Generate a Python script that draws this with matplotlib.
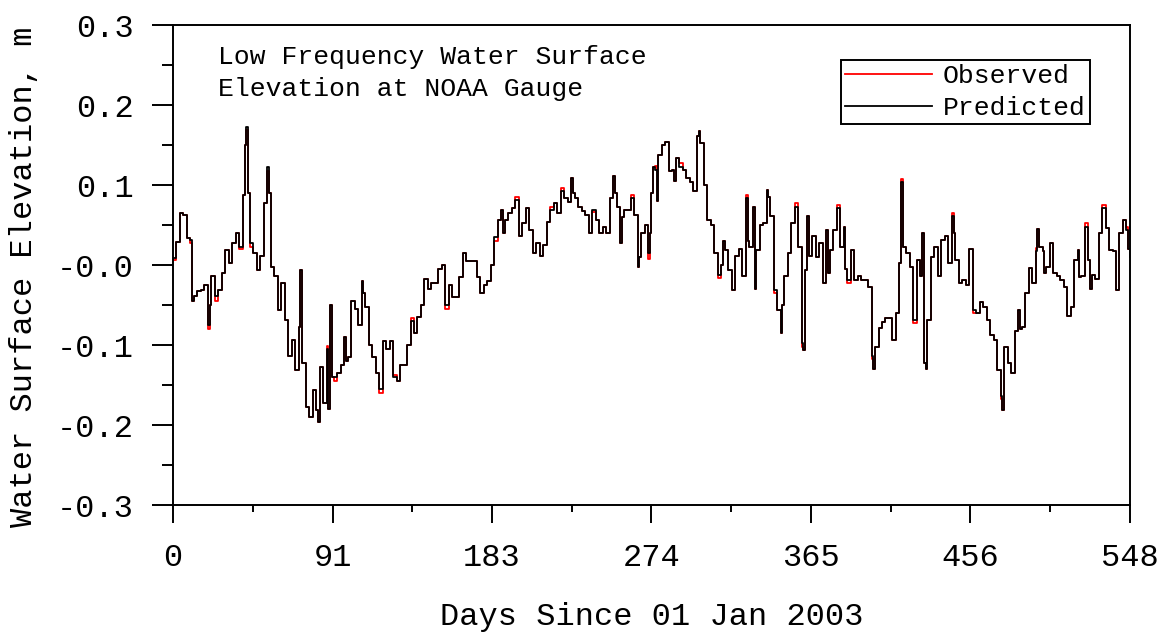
import matplotlib
matplotlib.use('Agg')
import matplotlib.pyplot as plt
import numpy as np

# Low-pass filtered water level at the NOAA gauge, metres
days = [0, 2, 4, 6, 8, 10, 11, 12, 14, 16, 18, 20, 21, 22, 24, 26, 28, 30, 32, 34,
        36, 38, 40, 41, 42, 43, 44, 46, 48, 50, 52, 54, 55, 56, 58, 60, 62, 64, 66, 68,
        70, 72, 73, 74, 76, 78, 80, 82, 83, 84, 86, 88, 89, 90, 91, 92, 94, 96, 98, 99,
        100, 102, 104, 106, 108, 109, 110, 112, 114, 116, 118, 120, 122, 124, 126, 128, 130, 132, 134, 136,
        138, 140, 142, 144, 146, 148, 150, 152, 154, 156, 158, 160, 162, 164, 166, 168, 170, 172, 174, 176,
        178, 180, 182, 184, 186, 188, 189, 190, 192, 194, 196, 198, 200, 202, 204, 206, 208, 210, 212, 214,
        216, 218, 220, 222, 224, 226, 228, 229, 230, 232, 234, 236, 238, 240, 242, 244, 246, 248, 250, 252,
        253, 254, 256, 257, 258, 260, 262, 264, 266, 267, 268, 270, 272, 273, 274, 275, 276, 277, 278, 280,
        282, 284, 286, 287, 288, 290, 292, 294, 296, 298, 300, 301, 302, 304, 306, 308, 310, 312, 314, 315,
        316, 318, 320, 322, 324, 326, 328, 329, 330, 332, 333, 334, 336, 338, 340, 341, 342, 344, 346, 348,
        349, 350, 352, 354, 356, 358, 360, 361, 362, 363, 364, 366, 368, 370, 372, 374, 375, 376, 378, 380,
        382, 384, 385, 386, 388, 390, 392, 394, 396, 398, 400, 401, 402, 404, 406, 408, 410, 412, 414, 416,
        417, 418, 420, 422, 424, 426, 428, 429, 430, 431, 432, 434, 436, 438, 440, 442, 444, 446, 447, 448,
        450, 452, 454, 456, 458, 460, 462, 464, 466, 468, 470, 472, 474, 475, 476, 478, 480, 482, 484, 485,
        486, 488, 490, 492, 494, 495, 496, 498, 499, 500, 502, 504, 506, 508, 510, 512, 514, 516, 518, 519,
        520, 522, 524, 525, 526, 528, 530, 532, 534, 536, 538, 540, 542, 544, 546, 547, 548]

predicted = [0.009, 0.029, 0.065, 0.063, 0.034, 0.031, -0.045, -0.039, -0.033, -0.031, -0.025, -0.075, -0.050, -0.014, -0.039, -0.031, -0.010, 0.019, 0.002, 0.027,
             0.040, 0.023, 0.088, 0.150, 0.173, 0.090, 0.027, 0.015, -0.006, 0.011, 0.077, 0.123, 0.090, -0.002, -0.014, -0.056, -0.023, -0.069, -0.114, -0.094,
             -0.131, -0.077, -0.006, -0.123, -0.177, -0.190, -0.156, -0.181, -0.196, -0.127, -0.173, -0.105, -0.180, -0.050, -0.140, -0.140, -0.135, -0.125, -0.090, -0.120,
             -0.115, -0.045, -0.055, -0.075, -0.020, -0.035, -0.052, -0.100, -0.115, -0.135, -0.155, -0.095, -0.105, -0.095, -0.140, -0.145, -0.125, -0.125, -0.100, -0.070,
             -0.085, -0.065, -0.050, -0.018, -0.030, -0.022, -0.022, -0.005, 0.000, -0.050, -0.025, -0.040, -0.040, -0.015, 0.015, 0.005, 0.005, 0.005, -0.015, -0.035,
             -0.025, -0.020, 0.000, 0.035, 0.056, 0.069, 0.040, 0.056, 0.065, 0.071, 0.081, 0.036, 0.052, 0.071, 0.044, 0.015, 0.027, 0.011, 0.025, 0.054,
             0.069, 0.077, 0.065, 0.092, 0.084, 0.079, 0.109, 0.090, 0.084, 0.073, 0.067, 0.063, 0.040, 0.069, 0.056, 0.040, 0.048, 0.040, 0.084, 0.111,
             0.090, 0.073, 0.027, 0.060, 0.069, 0.069, 0.084, 0.063, -0.002, 0.010, 0.040, 0.050, 0.015, 0.040, 0.090, 0.123, 0.119, 0.080, 0.138, 0.150,
             0.154, 0.117, 0.119, 0.105, 0.134, 0.123, 0.119, 0.109, 0.104, 0.092, 0.161, 0.167, 0.152, 0.100, 0.056, 0.050, 0.015, -0.012, 0.000, 0.030,
             0.019, -0.006, -0.031, 0.011, 0.020, -0.014, 0.084, 0.030, 0.023, 0.073, -0.030, 0.019, 0.050, 0.052, 0.094, 0.085, 0.061, -0.031, -0.056, -0.085,
             -0.050, -0.014, 0.015, 0.052, 0.073, 0.023, -0.098, -0.106, -0.006, 0.061, 0.011, 0.036, 0.010, 0.027, -0.023, 0.044, -0.010, 0.019, 0.044, 0.071,
             0.023, 0.048, -0.005, -0.019, 0.019, -0.019, -0.014, -0.019, -0.019, -0.027, -0.114, -0.130, -0.102, -0.079, -0.071, -0.066, -0.066, -0.094, -0.060, 0.002,
             0.104, 0.023, 0.015, -0.002, -0.069, 0.006, -0.014, 0.040, -0.123, -0.130, -0.069, 0.010, 0.023, -0.014, 0.031, 0.036, 0.002, 0.061, 0.040, 0.006,
             -0.023, -0.019, -0.025, 0.020, -0.056, -0.060, -0.046, -0.052, -0.069, -0.087, -0.094, -0.131, -0.164, -0.181, -0.102, -0.123, -0.135, -0.083, -0.056, -0.080,
             -0.077, -0.035, -0.004, -0.023, 0.017, 0.045, 0.023, 0.017, -0.010, -0.002, 0.027, -0.010, -0.014, -0.019, -0.027, -0.064, -0.052, 0.006, 0.019, -0.015,
             -0.014, 0.048, 0.006, -0.030, -0.012, -0.017, 0.040, 0.071, 0.046, 0.019, 0.017, -0.031, 0.040, 0.056, 0.044, 0.020, 0.010]

# observed levels where they part from the prediction
observed_at = {0: 0.006, 10: 0.028, 20: -0.080, 24: -0.045, 38: 0.020, 42: 0.169, 44: 0.022,
               54: 0.118, 88: -0.101, 92: -0.145, 118: -0.160, 126: -0.137, 136: -0.066,
               156: -0.055, 184: 0.030, 196: 0.085, 216: 0.072, 222: 0.096, 240: 0.066,
               262: 0.088, 272: 0.008, 276: 0.124, 290: 0.127, 312: -0.016, 328: 0.088,
               344: -0.035, 356: 0.077, 360: -0.102, 380: 0.075, 386: -0.023, 400: -0.118,
               417: 0.108, 424: -0.073, 446: 0.065, 458: -0.060, 474: -0.168, 494: 0.021,
               522: 0.052, 532: 0.075, 546: 0.048}
observed = [observed_at.get(d, v) for d, v in zip(days, predicted)]

x_labels = ['0', '91', '183', '274', '365', '456', '548']
y_labels = ['-0.3', '-0.2', '-0.1', '-0.0', '0.1', '0.2', '0.3']

plt.rcParams['font.family'] = ['Liberation Mono', 'DejaVu Sans Mono']

fig = plt.figure(figsize=(11.58, 6.32), dpi=100)
ax = fig.add_axes([0.1494, 0.2009, 0.8264, 0.7595])

ax.plot(days, observed, color='red', lw=1.3, drawstyle='steps-post', label='Observed')
ax.plot(days, predicted, color='black', lw=1.3, drawstyle='steps-post', label='Predicted')

ax.set_xlim(0, 548)
ax.set_ylim(-0.3, 0.3)
ax.set_xticks(np.linspace(0, 548, 7))
ax.set_xticklabels(x_labels)
ax.set_xticks(np.linspace(0, 548, 13), minor=True)
ax.set_yticks(np.linspace(-0.3, 0.3, 7))
ax.set_yticklabels(y_labels)
ax.set_yticks(np.linspace(-0.3, 0.3, 13), minor=True)

for s in ax.spines.values():
    s.set_linewidth(1.4)
ax.tick_params(axis='both', which='both', direction='out', width=1.4, labelsize=23)
ax.tick_params(axis='x', which='major', length=13, pad=14)
ax.tick_params(axis='x', which='minor', length=5)
ax.tick_params(axis='y', which='major', length=15, pad=13)
ax.tick_params(axis='y', which='minor', length=8)

ax.set_xlabel('Days Since 01 Jan 2003', fontsize=23)
ax.xaxis.set_label_coords(0.5, -0.203)
ax.set_ylabel('Water Surface Elevation, m', fontsize=23)
ax.yaxis.set_label_coords(-0.14, 0.475)

ax.text(0.047, 0.958, 'Low Frequency Water Surface\nElevation at NOAA Gauge',
        transform=ax.transAxes, ha='left', va='top', fontsize=19, linespacing=1.4)

leg = ax.legend(loc='upper right', bbox_to_anchor=(0.958, 0.927), borderaxespad=0,
                fontsize=19, handlelength=3.3, handletextpad=0.4, labelspacing=0.32,
                borderpad=0.15, fancybox=False, framealpha=1)
leg.get_frame().set_edgecolor('black')
leg.get_frame().set_linewidth(1.4)

fig.savefig('out.png', dpi=100)
